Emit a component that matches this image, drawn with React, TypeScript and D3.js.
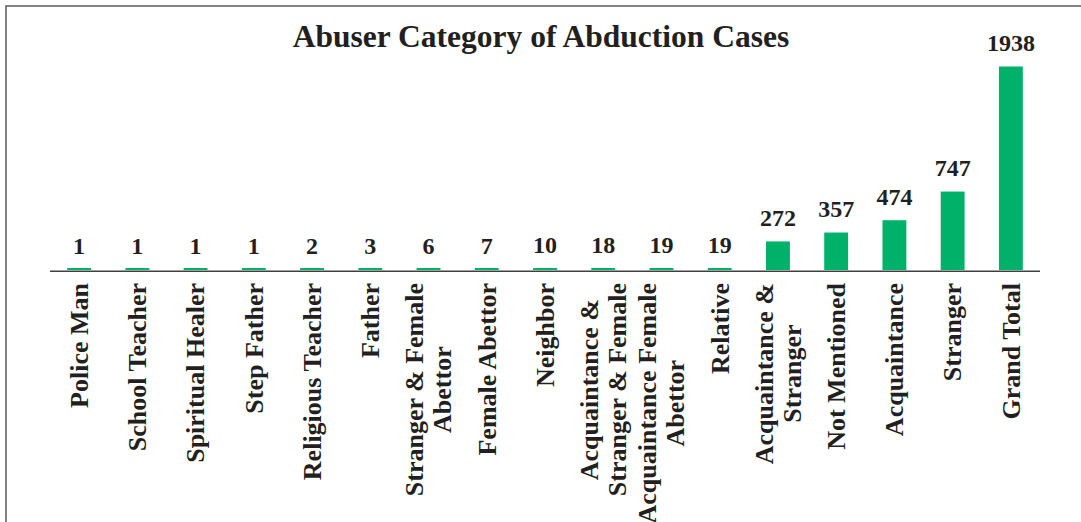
import { useRef, useEffect } from 'react';
import * as d3 from 'd3';

// Category labels (one entry per line of the wrapped label)
const categoryLines: string[][] = [
  ['Police Man'],
  ['School Teacher'],
  ['Spiritual Healer'],
  ['Step Father'],
  ['Religious Teacher'],
  ['Father'],
  ['Stranger & Female', 'Abettor'],
  ['Female Abettor'],
  ['Neighbor'],
  ['Acquaintance &', 'Stranger & Female'],
  ['Acquaintance Female', 'Abettor'],
  ['Relative'],
  ['Acquaintance &', 'Stranger'],
  ['Not Mentioned'],
  ['Acquaintance'],
  ['Stranger'],
  ['Grand Total'],
];

const caseCounts: number[] = [1, 1, 1, 1, 2, 3, 6, 7, 10, 18, 19, 19, 272, 357, 474, 747, 1938];

const chartTitle = 'Abuser Category of Abduction Cases';

export default function App() {
  const chartRef = useRef<SVGSVGElement | null>(null);

  useEffect(() => {
    if (!chartRef.current) return;

    const width = 1081;
    const height = 522;
    const font = '"Liberation Serif", "Times New Roman", serif';
    const barColor = '#00b16a';

    const svg = d3.select(chartRef.current)
      .attr('width', width)
      .attr('height', height);
    svg.selectAll('*').remove();

    // outer frame (runs off the right and bottom edges)
    svg.append('rect')
      .attr('x', 6)
      .attr('y', 6)
      .attr('width', 1200)
      .attr('height', 700)
      .attr('fill', 'white')
      .attr('stroke', '#595959')
      .attr('stroke-width', 1.5);

    svg.append('text')
      .attr('x', 541)
      .attr('y', 47)
      .attr('text-anchor', 'middle')
      .attr('font-family', font)
      .attr('font-weight', 'bold')
      .attr('font-size', '31.5px')
      .attr('fill', '#231f20')
      .text(chartTitle);

    const idx = d3.range(caseCounts.length);

    const xScale = d3.scaleBand<number>()
      .domain(idx)
      .range([50, 1040])
      .paddingInner(0.59)
      .paddingOuter(0.295);

    const yScale = d3.scaleLinear()
      .domain([0, d3.max(caseCounts) || 0])
      .range([270, 66.5]);

    // bars
    svg.selectAll('rect.bar')
      .data(caseCounts)
      .enter()
      .append('rect')
      .attr('class', 'bar')
      .attr('x', (_, i) => xScale(i) || 0)
      .attr('width', xScale.bandwidth())
      .attr('y', (d) => Math.min(yScale(d), yScale(0) - 2))
      .attr('height', (d) => Math.max(yScale(0) - yScale(d), 2))
      .attr('fill', barColor);

    // axis line
    svg.append('line')
      .attr('x1', 50)
      .attr('x2', 1040)
      .attr('y1', 271.2)
      .attr('y2', 271.2)
      .attr('stroke', '#404040')
      .attr('stroke-width', 1.5);

    // value labels
    svg.selectAll('text.value')
      .data(caseCounts)
      .enter()
      .append('text')
      .attr('class', 'value')
      .attr('x', (_, i) => (xScale(i) || 0) + xScale.bandwidth() / 2)
      .attr('y', (d) => yScale(d) - 15.5)
      .attr('text-anchor', 'middle')
      .attr('font-family', font)
      .attr('font-weight', 'bold')
      .attr('font-size', '24px')
      .attr('fill', '#231f20')
      .text((d) => String(d));

    // rotated category labels, lines centred on each other, top-aligned under the axis
    const labelTop = 283;
    const lineGap = 28;
    categoryLines.forEach((lines, i) => {
      const cx = (xScale(i) || 0) + xScale.bandwidth() / 2;
      const g = svg.append('g');
      const texts = lines.map((line) => g.append('text')
        .attr('font-family', font)
        .attr('font-weight', 'bold')
        .attr('font-size', '26px')
        .attr('fill', '#231f20')
        .attr('text-anchor', 'middle')
        .text(line));
      const maxLen = d3.max(texts, (t) => (t.node() as SVGTextElement).getComputedTextLength()) || 0;
      const cy = labelTop + maxLen / 2;
      texts.forEach((t, j) => {
        const lx = cx + (j - (lines.length - 1) / 2) * lineGap;
        t.attr('transform', `translate(${lx},${cy}) rotate(-90)`)
          .attr('dy', '0.34em');
      });
    });
  }, []);

  return (
    <div>
      <svg ref={chartRef} style={{ position: 'absolute', left: 0, top: 0 }}></svg>
    </div>
  );
}
